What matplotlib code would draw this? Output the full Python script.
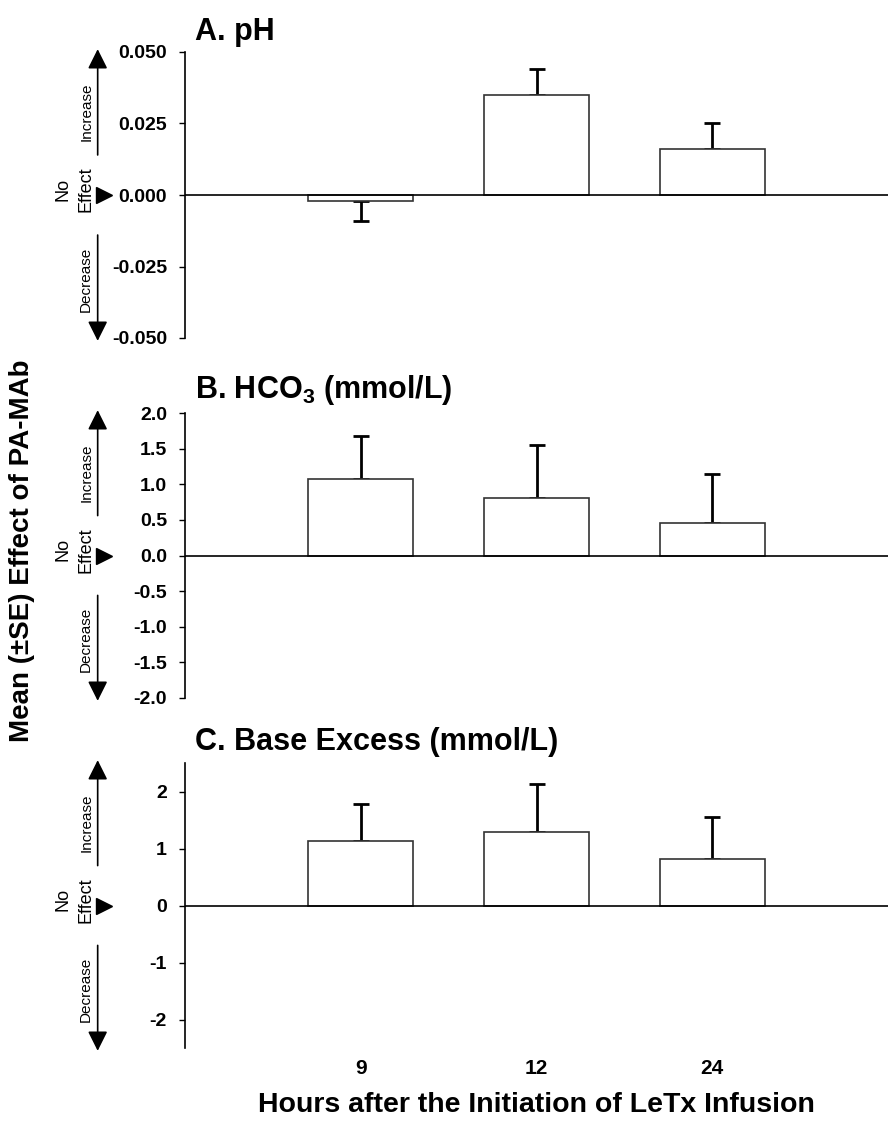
import matplotlib
matplotlib.use("Agg")
import matplotlib.pyplot as plt
import matplotlib.transforms as mtransforms

plt.rcParams['font.family'] = ['Liberation Sans', 'DejaVu Sans']
plt.rcParams['axes.unicode_minus'] = False
plt.rcParams['mathtext.fontset'] = 'custom'
plt.rcParams['mathtext.rm'] = 'Liberation Sans'
plt.rcParams['mathtext.bf'] = 'Liberation Sans:bold'

# --- data ---
hours = ['9', '12', '24']

ph_mean = [-0.002, 0.035, 0.016]
ph_se = [0.007, 0.009, 0.009]

hco3_mean = [1.07, 0.81, 0.46]
hco3_se = [0.61, 0.74, 0.68]

be_mean = [1.14, 1.29, 0.82]
be_se = [0.64, 0.84, 0.73]

titles = ['A. pH', r'B. HCO$_{\mathbf{3}}$ (mmol/L)', 'C. Base Excess (mmol/L)']
ylims = [(-0.05, 0.05), (-2.0, 2.0), (-2.5, 2.5)]
yticks = [[-0.050, -0.025, 0.000, 0.025, 0.050],
          [-2.0, -1.5, -1.0, -0.5, 0.0, 0.5, 1.0, 1.5, 2.0],
          [-2, -1, 0, 1, 2]]
yfmts = ['{:.3f}', '{:.1f}', '{:.0f}']

W, H = 888, 1123
fig = plt.figure(figsize=(W / 100, H / 100), dpi=100)

# panel boxes in pixels: (top, bottom)
boxes = [(52, 338), (413, 698), (763, 1048)]
title_y = [32, 390, 742]
ax_left, ax_right = 185, 888

x = [1, 2, 3]
panels = [(ph_mean, ph_se), (hco3_mean, hco3_se), (be_mean, be_se)]

for i, (means, ses) in enumerate(panels):
    top, bot = boxes[i]
    ax = fig.add_axes([ax_left / W, 1 - bot / H, (ax_right - ax_left) / W, (bot - top) / H])

    # one-sided SE bars, pointing away from zero
    lower = [s if m < 0 else 0 for m, s in zip(means, ses)]
    upper = [s if m >= 0 else 0 for m, s in zip(means, ses)]
    ax.errorbar(x, means, yerr=[lower, upper], fmt='none', ecolor='black',
                elinewidth=2, capsize=6, capthick=2, zorder=2)
    ax.bar(x, means, width=0.6, color='white', edgecolor='#333333', linewidth=1.2, zorder=3)
    ax.axhline(0, color='black', lw=1.2, zorder=4)

    ax.set_xlim(0, 4)
    ax.set_ylim(*ylims[i])
    ax.set_yticks(yticks[i])
    ax.set_yticklabels([yfmts[i].format(v) for v in yticks[i]], fontsize=14, fontweight='bold')
    ax.tick_params(axis='y', length=4, width=1, pad=9)

    for s in ['top', 'right', 'bottom']:
        ax.spines[s].set_visible(False)
    ax.spines['left'].set_linewidth(1.2)

    if i == 2:
        ax.set_xticks(x)
        ax.set_xticklabels(hours, fontsize=15, fontweight='bold')
        ax.tick_params(axis='x', length=0, pad=8)
        ax.set_xlabel('Hours after the Initiation of LeTx Infusion', fontsize=20.5,
                      fontweight='bold', labelpad=10)
    else:
        ax.set_xticks([])

    fig.text(195 / W, 1 - title_y[i] / H, titles[i], fontsize=22, fontweight='bold',
             ha='left', va='center')

    # direction arrows on the left
    tr = mtransforms.blended_transform_factory(fig.transFigure, ax.transAxes)
    arrow_kw = dict(arrowstyle='-|>,head_length=0.6,head_width=0.3', color='black',
                    lw=1.2, mutation_scale=20, shrinkA=0, shrinkB=0)
    ax.annotate('', xy=(0.110, 1.01), xytext=(0.110, 0.64), xycoords=tr, textcoords=tr,
                arrowprops=arrow_kw, annotation_clip=False)
    ax.annotate('', xy=(0.110, -0.01), xytext=(0.110, 0.36), xycoords=tr, textcoords=tr,
                arrowprops=arrow_kw, annotation_clip=False)
    ax.text(0.097, 0.79, 'Increase', transform=tr, rotation=90, fontsize=11,
            ha='center', va='center')
    ax.text(0.097, 0.205, 'Decrease', transform=tr, rotation=90, fontsize=11,
            ha='center', va='center')
    ax.text(0.071, 0.52, 'No', transform=tr, rotation=90, fontsize=13,
            ha='center', va='center')
    ax.text(0.097, 0.52, 'Effect', transform=tr, rotation=90, fontsize=13,
            ha='center', va='center')
    ax.plot([0.117], [0.5], marker='>', ms=11, color='black', transform=tr, clip_on=False)

fig.text(0.025, 0.51, 'Mean (±SE) Effect of PA-MAb', rotation=90, fontsize=20,
         fontweight='bold', ha='center', va='center')

fig.savefig('out.png', dpi=100)
